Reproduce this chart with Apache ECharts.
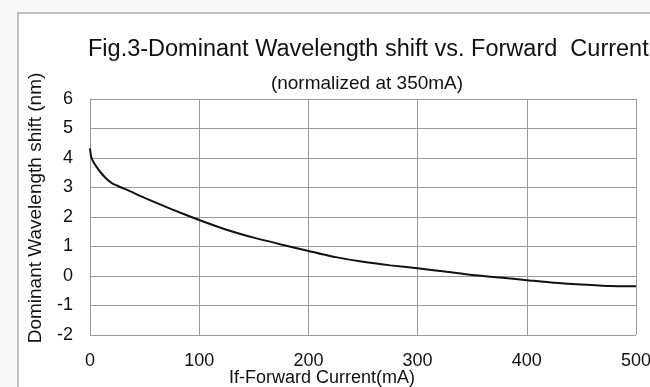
<!DOCTYPE html>
<html>
<head>
<meta charset="utf-8">
<script src="https://cdn.jsdelivr.net/npm/echarts@6/dist/echarts.min.js"></script>
<style>
  html, body { margin: 0; padding: 0; background: #f8f8f8; }
  #chart { width: 650px; height: 387px; }
</style>
</head>
<body>
<div id="chart"></div>
<script>
// forward current (mA) and wavelength shift (nm)
const currentMa = [0, 1, 3, 6, 10, 15, 20, 25, 35, 50, 75, 100, 125, 150, 175, 200, 225, 250, 275, 300, 325, 350, 375, 400, 425, 450, 475, 500];
const shiftNm = [4.33, 4.05, 3.87, 3.7, 3.5, 3.3, 3.15, 3.06, 2.9, 2.65, 2.26, 1.9, 1.57, 1.3, 1.07, 0.85, 0.64, 0.48, 0.36, 0.26, 0.15, 0.03, -0.05, -0.14, -0.23, -0.29, -0.34, -0.35];
const xTicks = [0, 100, 200, 300, 400, 500];
const yTicks = [-2, -1, 0, 1, 2, 3, 4, 5, 6];

const font = "'Liberation Sans', Arial, sans-serif";
const chart = echarts.init(document.getElementById("chart"));

chart.setOption({
  animation: false,
  backgroundColor: "#f8f8f8",
  graphic: [
    {
      type: "rect",
      z: -10,
      shape: { x: 18, y: 13, width: 700, height: 420 },
      style: { fill: "#fff", stroke: "#aaa", lineWidth: 1.5 },
    },
    {
      // y axis title
      type: "text",
      x: 36,
      y: 208,
      rotation: Math.PI / 2,
      style: {
        text: "Dominant Wavelength shift (nm)",
        font: "19px " + font,
        fill: "#111",
        align: "center",
        verticalAlign: "middle",
      },
    },
    {
      // x axis title
      type: "text",
      x: 322,
      y: 378,
      style: {
        text: "If-Forward Current(mA)",
        font: "18px " + font,
        fill: "#111",
        align: "center",
        verticalAlign: "middle",
      },
    },
  ],
  title: [
    {
      text: "Fig.3-Dominant Wavelength shift vs. Forward  Current",
      left: 83,
      top: 33,
      textStyle: { fontFamily: font, fontWeight: "normal", fontSize: 23.5, color: "#111" },
    },
    {
      text: "(normalized at 350mA)",
      left: 362,
      top: 69,
      textAlign: "center",
      textStyle: { fontFamily: font, fontWeight: "normal", fontSize: 19, color: "#111" },
    },
  ],
  grid: { left: 90, top: 99, width: 546, height: 236, outerBoundsMode: "none", containLabel: false },
  xAxis: {
    type: "value",
    min: xTicks[0],
    max: xTicks[xTicks.length - 1],
    interval: 100,
    axisLine: { show: true, lineStyle: { color: "#999" } },
    axisTick: { show: false },
    axisLabel: { fontFamily: font, fontSize: 18, color: "#111", margin: 17, showMaxLabel: true },
    splitLine: { show: true, lineStyle: { color: "#999", width: 1 } },
  },
  yAxis: {
    type: "value",
    min: yTicks[0],
    max: yTicks[yTicks.length - 1],
    interval: 1,
    axisLine: { show: true, lineStyle: { color: "#999" } },
    axisTick: { show: false },
    axisLabel: { fontFamily: font, fontSize: 18, color: "#111", margin: 17 },
    splitLine: { show: true, lineStyle: { color: "#999", width: 1 } },
  },
  series: [
    {
      type: "line",
      data: currentMa.map((x, i) => [x, shiftNm[i]]),
      smooth: 0.2,
      showSymbol: false,
      lineStyle: { color: "#111", width: 2 },
    },
  ],
});
</script>
</body>
</html>
